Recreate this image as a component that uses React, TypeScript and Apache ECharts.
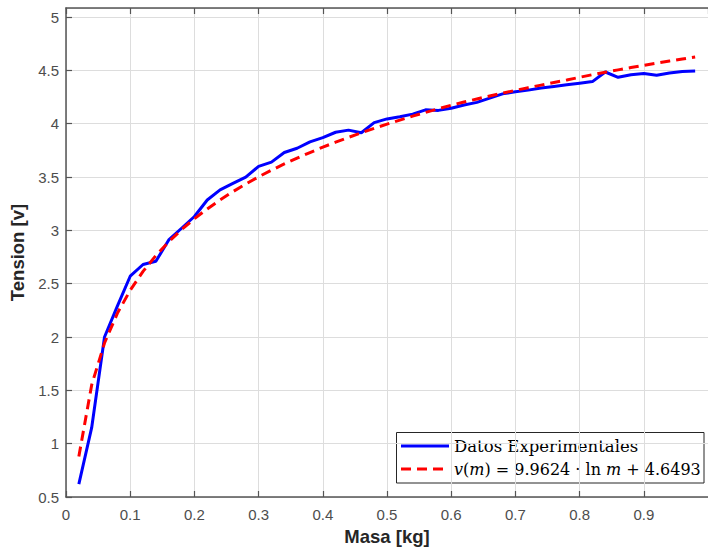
import React, { useEffect, useRef } from "react";
import * as echarts from "echarts";

const masa = [0.02, 0.04, 0.06, 0.08, 0.1, 0.12, 0.14, 0.16, 0.18, 0.2, 0.22, 0.24, 0.26, 0.28, 0.3, 0.32, 0.34, 0.36, 0.38, 0.4, 0.42, 0.44, 0.46, 0.48, 0.5, 0.52, 0.54, 0.56, 0.58, 0.6, 0.62, 0.64, 0.66, 0.68, 0.7, 0.72, 0.74, 0.76, 0.78, 0.8, 0.82, 0.84, 0.86, 0.88, 0.9, 0.92, 0.94, 0.96, 0.98];

const tensionExp = [0.62, 1.15, 2.0, 2.29, 2.57, 2.68, 2.71, 2.91, 3.02, 3.13, 3.285, 3.38, 3.44, 3.5, 3.6, 3.64, 3.73, 3.77, 3.83, 3.87, 3.92, 3.94, 3.915, 4.01, 4.045, 4.065, 4.09, 4.13, 4.125, 4.145, 4.175, 4.2, 4.24, 4.28, 4.3, 4.315, 4.335, 4.35, 4.365, 4.38, 4.395, 4.485, 4.435, 4.46, 4.47, 4.455, 4.475, 4.49, 4.495];

const tensionFit = [0.88, 1.551, 1.944, 2.222, 2.438, 2.615, 2.764, 2.893, 3.007, 3.109, 3.201, 3.286, 3.363, 3.435, 3.502, 3.564, 3.623, 3.678, 3.73, 3.78, 3.827, 3.872, 3.915, 3.957, 3.996, 4.034, 4.071, 4.106, 4.14, 4.173, 4.204, 4.232, 4.26, 4.287, 4.313, 4.338, 4.362, 4.386, 4.41, 4.435, 4.46, 4.483, 4.505, 4.527, 4.548, 4.568, 4.588, 4.607, 4.626];

const legendNames = ["Datos Experimentales", "v(m) = 9.9624 · ln m + 4.6493"];

export default function App() {
  const ref = useRef<HTMLDivElement>(null);
  useEffect(() => {
    document.body.style.margin = "0";
    const chart = echarts.init(ref.current!, null, { renderer: "svg" });
    const sans = "Liberation Sans, Arial, sans-serif";
    const tickFont = { fontFamily: sans, fontSize: 15, color: "#4d4d4d" };
    const nameFont = { fontFamily: sans, fontSize: 18.5, fontWeight: "bold", color: "#262626" };
    const serif = "DejaVu Serif, serif";
    const axisLine = { show: true, onZero: false, lineStyle: { color: "#555555", width: 1.5 } };
    const axisTick = { show: true, inside: true, length: 6, lineStyle: { color: "#555555", width: 1.2 } };
    chart.setOption({
      animation: false,
      backgroundColor: "#ffffff",
      grid: { left: 66, top: 8, width: 645, height: 489 },
      xAxis: [
        {
          type: "value",
          min: 0,
          max: 1,
          interval: 0.1,
          position: "bottom",
          name: "Masa [kg]",
          nameLocation: "middle",
          nameGap: 30,
          nameTextStyle: nameFont,
          axisLine,
          axisTick,
          axisLabel: { ...tickFont, margin: 10, showMaxLabel: false },
          splitLine: { show: true, lineStyle: { color: "#dddddd", width: 1 } },
        },
        {
          type: "value",
          min: 0,
          max: 1,
          interval: 0.1,
          position: "top",
          axisLine,
          axisTick,
          axisLabel: { show: false },
          splitLine: { show: false },
        },
      ],
      yAxis: {
        type: "value",
        min: 0.5,
        max: 5.085,
        interval: 0.5,
        name: "Tension [v]",
        nameLocation: "middle",
        nameGap: 34,
        nameRotate: 90,
        nameTextStyle: nameFont,
        axisLine,
        axisTick,
        axisLabel: {
          ...tickFont,
          margin: 7,
          showMaxLabel: false,
          formatter: (v: number) => (v > 5.0001 ? "" : String(v)),
        },
        splitLine: { show: true, lineStyle: { color: "#dddddd", width: 1 } },
      },
      series: [
        {
          name: legendNames[0],
          type: "line",
          data: masa.map((m, i) => [m, tensionExp[i]]),
          showSymbol: false,
          symbol: "none",
          lineStyle: { color: "#0000ff", width: 3 },
          z: 3,
        },
        {
          name: legendNames[1],
          type: "line",
          data: masa.map((m, i) => [m, tensionFit[i]]),
          showSymbol: false,
          symbol: "none",
          lineStyle: { color: "#ff0000", width: 3, type: [10, 6] },
          z: 4,
        },
      ],
      graphic: [
        {
          type: "group",
          z: 100,
          children: [
            {
              type: "rect",
              shape: { x: 396.5, y: 432.5, width: 307.5, height: 50.5 },
              style: { fill: "#ffffff", stroke: "#262626", lineWidth: 1 },
            },
            {
              type: "line",
              shape: { x1: 401, y1: 446, x2: 449, y2: 446 },
              style: { stroke: "#0000ff", lineWidth: 3 },
            },
            {
              type: "line",
              shape: { x1: 401, y1: 469, x2: 449, y2: 469 },
              style: { stroke: "#ff0000", lineWidth: 3, lineDash: [10, 6] },
            },
            {
              type: "text",
              x: 454,
              y: 446,
              style: {
                text: legendNames[0],
                fontFamily: serif,
                fontSize: 16.5,
                fill: "#000000",
                verticalAlign: "middle",
              },
            },
            {
              type: "text",
              x: 454,
              y: 469,
              style: {
                text: "{i|v}(" + "{i|m}) = 9.9624 · ln {i|m} + 4.6493",
                fontFamily: serif,
                fontSize: 16,
                fill: "#000000",
                verticalAlign: "middle",
                rich: {
                  i: { fontFamily: serif, fontSize: 16, fontStyle: "italic", fill: "#000000" },
                },
              },
            },
          ],
        },
      ],
    });
    return () => chart.dispose();
  }, []);
  return <div ref={ref} style={{ position: "absolute", left: 0, top: 0, width: 708, height: 552 }} />;
}
